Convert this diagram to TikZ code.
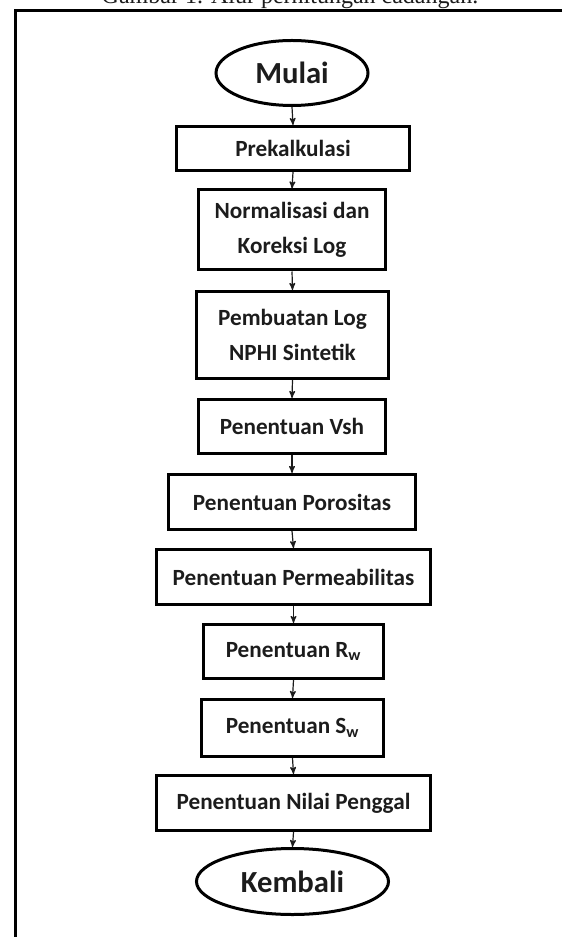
\documentclass[tikz,border=0pt]{standalone}
\usepackage{fontspec}
\setmainfont{Liberation Serif}
\newfontfamily\flowfont{Carlito}
\usepackage{tikz}
\usetikzlibrary{arrows,shapes.geometric}
\definecolor{inkgray}{HTML}{1C1C1C}
\newcommand{\stepfont}{\flowfont\bfseries\fontsize{17.4}{26}\selectfont}
\newcommand{\termfont}{\flowfont\bfseries\fontsize{23}{27}\selectfont}

\begin{document}
\begin{tikzpicture}[x=0.75pt,y=-0.75pt,>=stealth',
every node/.style={text=inkgray,inner sep=0pt},
stepbox/.style={draw=black,line width=2.25pt,rectangle,align=center,font=\stepfont},
termbox/.style={draw=black,line width=2.25pt,ellipse,font=\termfont},
flowarrow/.style={->,line width=0.9pt,draw=inkgray}]
\useasboundingbox (0,0) rectangle (562,937);

%caption and frame
\node[font=\fontsize{18}{20}\selectfont,anchor=base](caption) at (290,4) {Gambar 1. Alur perhitungan cadangan.};
\draw[line width=2.25pt] (562,11) -- (15.5,11) -- (15.5,937);

%steps of the flow
\node[termbox,minimum width=114pt,minimum height=48.75pt](mulai) at (292,73) {Mulai};
\node[stepbox,minimum width=174.75pt,minimum height=33pt](prekal) at (293,148.5) {Prekalkulasi};
\node[stepbox,minimum width=140pt,minimum height=60pt](normal) at (292,230) {Normalisasi dan\\Koreksi Log};
\node[stepbox,minimum width=144pt,minimum height=65.25pt](pembuatan) at (292.5,335) {Pembuatan Log\\NPHI Sintetik};
\node[stepbox,minimum width=140pt,minimum height=40.5pt](vsh) at (292,426.5) {Penentuan Vsh};
\node[stepbox,minimum width=185.25pt,minimum height=41.25pt](poros) at (292,502) {Penentuan Porositas};
\node[stepbox,minimum width=205.5pt,minimum height=41.25pt](perm) at (293.5,577) {Penentuan Permeabilitas};
\node[stepbox,minimum width=135pt,minimum height=40.5pt](rw) at (293.5,651.5) {Penentuan R\textsubscript{w}};
\node[stepbox,minimum width=136.5pt,minimum height=42.75pt](sw) at (292.5,728) {Penentuan S\textsubscript{w}};
\node[stepbox,minimum width=205.5pt,minimum height=41.25pt](nilai) at (293.5,803) {Penentuan Nilai Penggal};
\node[termbox,minimum width=144pt,minimum height=49.5pt](kembali) at (292.5,881.5) {Kembali};

%arrows between consecutive steps
\foreach \a/\b in {mulai/prekal,prekal/normal,normal/pembuatan,pembuatan/vsh,vsh/poros,poros/perm,perm/rw,rw/sw,sw/nilai,nilai/kembali}{
	\draw[flowarrow] (\a.south) -- (\b.north);
}
\end{tikzpicture}
\end{document}
